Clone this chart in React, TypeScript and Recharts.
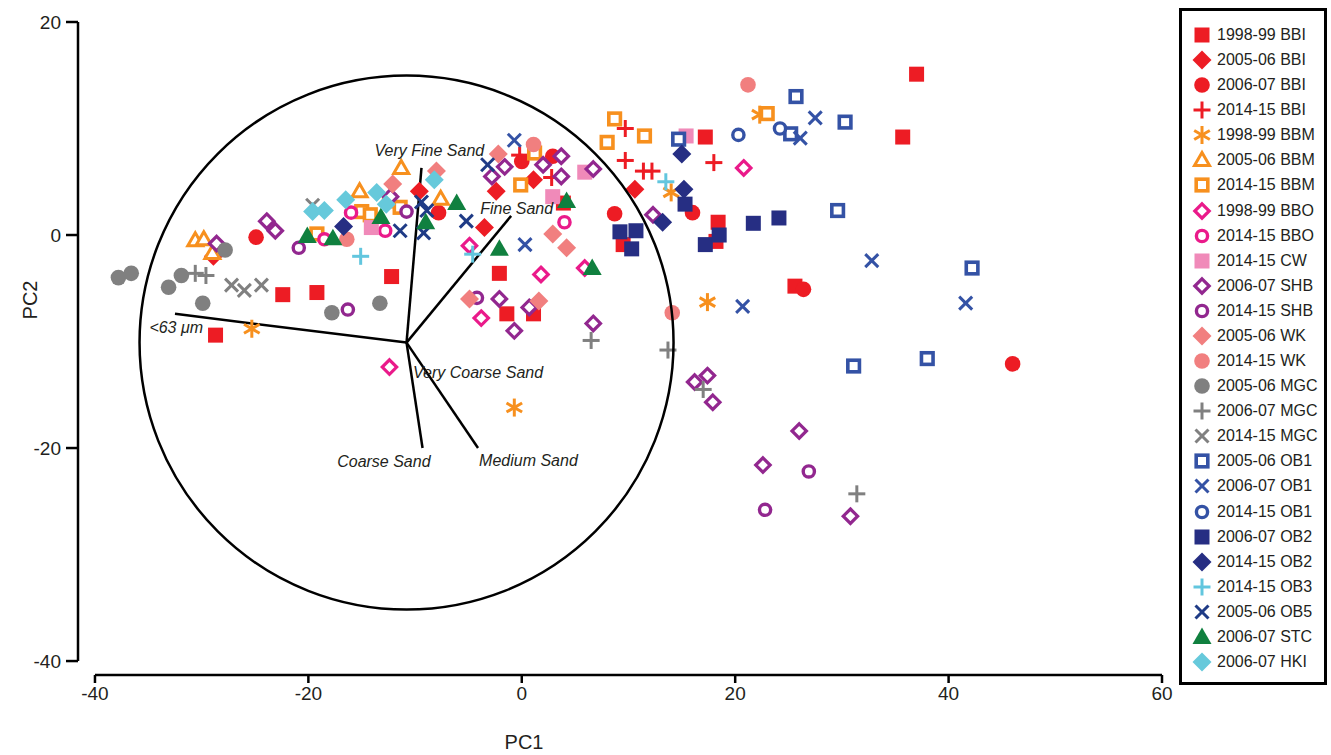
import { ScatterChart, Scatter, XAxis, YAxis, ReferenceLine, ReferenceDot } from 'recharts';

type Pt = [number, number];

// PC1 / PC2 sample scores, one array per site and survey season
const bbi9899: Pt[] = [[-28.7, -9.4], [-22.4, -5.6], [-19.2, -5.4], [-12.2, -3.9], [-2.1, -3.6], [-1.4, -7.4], [1.1, -7.4], [3.9, 3.0], [9.5, -0.9], [17.2, 9.2], [18.4, 1.2], [18.2, -0.6], [25.6, -4.8], [35.7, 9.2], [37.0, 15.1]];
const bbi0506: Pt[] = [[-28.9, -2.0], [-9.6, 4.1], [-3.5, 0.7], [-2.4, 4.1], [1.1, 5.2], [10.6, 4.3]];
const bbi0607: Pt[] = [[-24.9, -0.2], [-7.8, 2.1], [0.0, 6.9], [2.9, 7.4], [8.7, 2.0], [16.0, 2.1], [26.4, -5.1], [46.0, -12.1]];
const bbi1415: Pt[] = [[-0.2, 7.5], [2.8, 5.4], [9.7, 10.0], [9.7, 7.0], [11.4, 6.0], [12.2, 6.0], [18.0, 6.8]];
const bbm9899: Pt[] = [[-25.3, -8.8], [-0.7, -16.2], [14.0, 4.0], [17.4, -6.3], [22.3, 11.3]];
const bbm0506: Pt[] = [[-30.6, -0.5], [-29.8, -0.4], [-29.0, -1.7], [-15.2, 4.1], [-11.3, 6.3], [-7.6, 3.4]];
const bbm1415: Pt[] = [[-19.2, 0.1], [-15.0, 2.2], [-14.2, 1.9], [-12.4, 3.2], [-11.4, 2.6], [-0.1, 4.7], [1.2, 7.7], [8.0, 8.7], [8.7, 10.9], [11.5, 9.3], [23.0, 11.4]];
const bbo9899: Pt[] = [[-12.4, -12.4], [-4.9, -1.0], [-3.8, -7.8], [1.8, -3.7], [5.9, -3.1], [20.8, 6.3]];
const bbo1415: Pt[] = [[-18.5, -0.4], [-16.0, 2.1], [-12.8, 0.4], [4.0, 1.2]];
const cw1415: Pt[] = [[-14.1, 0.7], [2.9, 3.6], [5.9, 5.9], [15.4, 9.3]];
const shb0607: Pt[] = [[-28.6, -0.8], [-23.9, 1.3], [-23.1, 0.4], [-12.3, 3.6], [-2.8, 5.5], [-1.6, 6.4], [2.0, 6.6], [3.7, 7.4], [3.7, 5.5], [6.7, 6.2], [12.3, 1.9], [-2.1, -6.0], [0.7, -6.8], [-0.7, -9.0], [6.7, -8.3], [16.2, -13.8], [17.4, -13.2], [17.9, -15.7], [26.0, -18.4], [22.6, -21.6], [30.8, -26.4]];
const shb1415: Pt[] = [[-20.9, -1.2], [-16.3, -7.0], [-10.8, 2.2], [-4.2, -5.9], [22.8, -25.8], [26.9, -22.2]];
const wk0506: Pt[] = [[-12.1, 4.8], [-8.0, 6.0], [-2.2, 7.6], [2.9, 0.1], [4.2, -1.2], [-4.9, -6.0], [1.6, -6.2]];
const wk1415: Pt[] = [[-16.4, -0.4], [1.1, 8.5], [14.1, -7.3], [21.2, 14.1]];
const mgc0506: Pt[] = [[-37.8, -4.0], [-36.6, -3.6], [-33.1, -4.9], [-31.9, -3.8], [-29.9, -6.4], [-27.8, -1.4], [-17.8, -7.3], [-13.3, -6.4]];
const mgc0607: Pt[] = [[-30.6, -3.6], [-29.6, -3.8], [6.5, -9.9], [13.7, -10.8], [17.0, -14.5], [31.4, -24.3]];
const mgc1415: Pt[] = [[-27.2, -4.7], [-26.0, -5.2], [-24.4, -4.7], [-19.6, 2.8]];
const ob1_0506: Pt[] = [[14.7, 9.0], [25.2, 9.5], [25.7, 13.0], [30.3, 10.6], [29.6, 2.3], [42.2, -3.1], [31.1, -12.3], [38.0, -11.6]];
const ob1_0607: Pt[] = [[-0.7, 8.9], [0.3, -0.9], [20.7, -6.7], [26.1, 9.1], [27.5, 11.0], [32.8, -2.4], [41.6, -6.4]];
const ob1_1415: Pt[] = [[20.3, 9.4], [24.2, 10.0]];
const ob2_0607: Pt[] = [[9.2, 0.3], [10.7, 0.4], [10.3, -1.3], [15.3, 2.9], [17.2, -0.9], [18.5, 0.0], [21.7, 1.1], [24.1, 1.6]];
const ob2_1415: Pt[] = [[-16.7, 0.8], [13.2, 1.2], [15.0, 7.6], [15.2, 4.3]];
const ob3_1415: Pt[] = [[-15.1, -2.0], [-4.6, -1.8], [13.5, 5.0]];
const ob5_0506: Pt[] = [[-11.4, 0.4], [-9.2, 0.2], [-8.9, 2.3], [-9.4, 3.1], [-5.2, 1.3], [-3.2, 6.6]];
const stc0607: Pt[] = [[-20.1, -0.1], [-17.7, -0.3], [-13.2, 1.7], [-9.0, 1.2], [-6.1, 3.0], [-2.1, -1.3], [4.2, 3.2], [6.6, -3.1]];
const hki0607: Pt[] = [[-19.6, 2.2], [-18.5, 2.3], [-16.5, 3.3], [-13.6, 4.0], [-12.7, 2.9], [-8.2, 5.2]];

// grain size loadings (biplot vectors)
const biplotOrigin: Pt = [-10.8, -10.1];
const loadingNames = ['Very Fine Sand', 'Fine Sand', '<63 μm', 'Very Coarse Sand', 'Coarse Sand', 'Medium Sand'];
const loadingEnds: (Pt | null)[] = [[-9.4, 6.3], [-1.0, 1.8], [-32.5, -7.4], null, [-9.3, -20.0], [-4.1, -20.0]];
const loadingLabelAt: Pt[] = [[-13.8, 7.4], [-3.9, 2.0], [-34.9, -9.2], [-10.2, -13.4], [-17.3, -21.8], [-4.0, -21.7]];

const xTicks = [-40, -20, 0, 20, 40, 60];
const yTicks = [-40, -20, 0, 20];

const RED = '#ED1C24';
const ORANGE = '#F7901E';
const MAGENTA = '#EA1A8A';
const PINK = '#F08AB9';
const PURPLE = '#92278F';
const SALMON = '#F17F7F';
const GRAY = '#808080';
const BLUE = '#3452A5';
const NAVY = '#262E83';
const LIGHTBLUE = '#62C6DE';
const DARKBLUE = '#1F3B86';
const GREEN = '#10803F';
const CYAN = '#66C9DB';
const INK = '#231F20';
const FONT = '"Liberation Sans", Arial, Helvetica, sans-serif';

const series = [
  { name: '1998-99 BBI', data: bbi9899, kind: 'square', color: RED },
  { name: '2005-06 BBI', data: bbi0506, kind: 'diamond', color: RED },
  { name: '2006-07 BBI', data: bbi0607, kind: 'circle', color: RED },
  { name: '2014-15 BBI', data: bbi1415, kind: 'plus', color: RED },
  { name: '1998-99 BBM', data: bbm9899, kind: 'asterisk', color: ORANGE },
  { name: '2005-06 BBM', data: bbm0506, kind: 'openTriangle', color: ORANGE },
  { name: '2014-15 BBM', data: bbm1415, kind: 'openSquare', color: ORANGE },
  { name: '1998-99 BBO', data: bbo9899, kind: 'openDiamond', color: MAGENTA },
  { name: '2014-15 BBO', data: bbo1415, kind: 'openCircle', color: MAGENTA },
  { name: '2014-15 CW', data: cw1415, kind: 'square', color: PINK },
  { name: '2006-07 SHB', data: shb0607, kind: 'openDiamond', color: PURPLE },
  { name: '2014-15 SHB', data: shb1415, kind: 'openCircle', color: PURPLE },
  { name: '2005-06 WK', data: wk0506, kind: 'diamond', color: SALMON },
  { name: '2014-15 WK', data: wk1415, kind: 'circle', color: SALMON },
  { name: '2005-06 MGC', data: mgc0506, kind: 'circle', color: GRAY },
  { name: '2006-07 MGC', data: mgc0607, kind: 'plus', color: GRAY },
  { name: '2014-15 MGC', data: mgc1415, kind: 'cross', color: GRAY },
  { name: '2005-06 OB1', data: ob1_0506, kind: 'openSquare', color: BLUE },
  { name: '2006-07 OB1', data: ob1_0607, kind: 'cross', color: BLUE },
  { name: '2014-15 OB1', data: ob1_1415, kind: 'openCircle', color: BLUE },
  { name: '2006-07 OB2', data: ob2_0607, kind: 'square', color: NAVY },
  { name: '2014-15 OB2', data: ob2_1415, kind: 'diamond', color: NAVY },
  { name: '2014-15 OB3', data: ob3_1415, kind: 'plus', color: LIGHTBLUE },
  { name: '2005-06 OB5', data: ob5_0506, kind: 'cross', color: DARKBLUE },
  { name: '2006-07 STC', data: stc0607, kind: 'triangle', color: GREEN },
  { name: '2006-07 HKI', data: hki0607, kind: 'diamond', color: CYAN },
];

const Marker = ({ cx, cy, kind, color }: { cx: number; cy: number; kind: string; color: string }) => {
  switch (kind) {
    case 'square':
      return <rect x={cx - 7.5} y={cy - 7.5} width={15} height={15} fill={color} />;
    case 'openSquare':
      return <rect x={cx - 5.8} y={cy - 5.8} width={11.6} height={11.6} fill="#fff" stroke={color} strokeWidth={3.6} />;
    case 'diamond': {
      const r = 9.5;
      return <polygon points={`${cx},${cy - r} ${cx + r},${cy} ${cx},${cy + r} ${cx - r},${cy}`} fill={color} />;
    }
    case 'openDiamond': {
      const r = 7.2;
      return <polygon points={`${cx},${cy - r} ${cx + r},${cy} ${cx},${cy + r} ${cx - r},${cy}`} fill="#fff" stroke={color} strokeWidth={3.2} />;
    }
    case 'circle':
      return <circle cx={cx} cy={cy} r={7.8} fill={color} />;
    case 'openCircle':
      return <circle cx={cx} cy={cy} r={5.6} fill="#fff" stroke={color} strokeWidth={3.4} />;
    case 'plus':
      return (
        <g stroke={color} strokeWidth={3}>
          <line x1={cx - 8.5} y1={cy} x2={cx + 8.5} y2={cy} />
          <line x1={cx} y1={cy - 8.5} x2={cx} y2={cy + 8.5} />
        </g>
      );
    case 'cross':
      return (
        <g stroke={color} strokeWidth={3}>
          <line x1={cx - 6.5} y1={cy - 6.5} x2={cx + 6.5} y2={cy + 6.5} />
          <line x1={cx - 6.5} y1={cy + 6.5} x2={cx + 6.5} y2={cy - 6.5} />
        </g>
      );
    case 'asterisk':
      return (
        <g stroke={color} strokeWidth={3}>
          <line x1={cx} y1={cy - 9} x2={cx} y2={cy + 9} />
          <line x1={cx - 7.8} y1={cy - 4.5} x2={cx + 7.8} y2={cy + 4.5} />
          <line x1={cx - 7.8} y1={cy + 4.5} x2={cx + 7.8} y2={cy - 4.5} />
        </g>
      );
    case 'triangle':
      return <polygon points={`${cx},${cy - 9.5} ${cx + 9.5},${cy + 7} ${cx - 9.5},${cy + 7}`} fill={color} />;
    case 'openTriangle':
      return <polygon points={`${cx},${cy - 7.5} ${cx + 7.5},${cy + 5.5} ${cx - 7.5},${cy + 5.5}`} fill="#fff" stroke={color} strokeWidth={3} />;
    default:
      return null;
  }
};

const toXY = (pts: Pt[]) => pts.map(([x, y]) => ({ x, y }));

const labelData = loadingNames.map((label, i) => ({ x: loadingLabelAt[i][0], y: loadingLabelAt[i][1], label }));

export default function App() {
  return (
    <div style={{ position: 'absolute', left: 0, top: 0, width: 1331, height: 755, background: '#fff', fontFamily: FONT }}>
      <ScatterChart width={1331} height={755} margin={{ top: 22, right: 169, bottom: 20, left: 18 }}>
        <XAxis
          type="number"
          dataKey="x"
          domain={[-41.59, 60]}
          ticks={xTicks}
          interval={0}
          allowDataOverflow
          axisLine={false}
          tickLine={{ stroke: '#000', strokeWidth: 2.5 }}
          tickSize={8}
          tickMargin={4}
          height={60}
          tick={{ fontSize: 19, fill: INK, fontFamily: FONT }}
          label={() => (
            <text x={524} y={749} textAnchor="middle" fontSize={20} fill={INK} fontFamily={FONT}>PC1</text>
          )}
        />
        <YAxis
          type="number"
          dataKey="y"
          domain={[-41.31, 20]}
          ticks={yTicks}
          interval={0}
          allowDataOverflow
          axisLine={false}
          tickLine={{ stroke: '#000', strokeWidth: 2.5 }}
          tickSize={12}
          tickMargin={5}
          width={60}
          tick={{ fontSize: 19, fill: INK, fontFamily: FONT }}
          label={() => (
            <text x={37} y={300} transform="rotate(-90 37 300)" textAnchor="middle" fontSize={20} fill={INK} fontFamily={FONT}>PC2</text>
          )}
        />
        {/* axis frame, stopping at the end ticks */}
        <ReferenceLine segment={[{ x: -40, y: -41.31 }, { x: 60, y: -41.31 }]} stroke="#000" strokeWidth={2.5} ifOverflow="visible" />
        <ReferenceLine segment={[{ x: -41.59, y: -40 }, { x: -41.59, y: 20 }]} stroke="#000" strokeWidth={2.5} ifOverflow="visible" />

        {series.map((s) => (
          <Scatter
            key={s.name}
            name={s.name}
            data={toXY(s.data)}
            isAnimationActive={false}
            shape={(p: any) => <Marker cx={p.cx} cy={p.cy} kind={s.kind} color={s.color} />}
          />
        ))}

        {/* correlation circle and loading vectors */}
        <ReferenceDot x={biplotOrigin[0]} y={biplotOrigin[1]} r={267} fill="none" stroke="#000" strokeWidth={2.5} ifOverflow="visible" />
        {loadingEnds.map((end, i) =>
          end ? (
            <ReferenceLine
              key={loadingNames[i]}
              segment={[{ x: biplotOrigin[0], y: biplotOrigin[1] }, { x: end[0], y: end[1] }]}
              stroke="#000"
              strokeWidth={2.5}
              ifOverflow="visible"
            />
          ) : null
        )}
        <Scatter
          name="loadings"
          data={labelData}
          isAnimationActive={false}
          shape={(p: any) => (
            <text x={p.cx} y={p.cy} fontSize={16} fontStyle="italic" fill={INK} fontFamily={FONT}>
              {p.payload.label}
            </text>
          )}
        />
      </ScatterChart>

      {/* legend */}
      <div style={{ position: 'absolute', left: 1179, top: 8, width: 148, height: 677, border: '3px solid #000', boxSizing: 'border-box', background: '#fff' }} />
      {series.map((s, i) => (
        <div key={s.name} style={{ position: 'absolute', left: 1191, top: 35 + i * 25.08 - 11, height: 22, display: 'flex', alignItems: 'center' }}>
          <svg width={22} height={22} style={{ display: 'block' }}>
            <Marker cx={11} cy={11} kind={s.kind} color={s.color} />
          </svg>
          <span style={{ marginLeft: 4, fontSize: 16, color: INK, fontFamily: FONT, whiteSpace: 'nowrap', lineHeight: '22px' }}>{s.name}</span>
        </div>
      ))}
    </div>
  );
}
